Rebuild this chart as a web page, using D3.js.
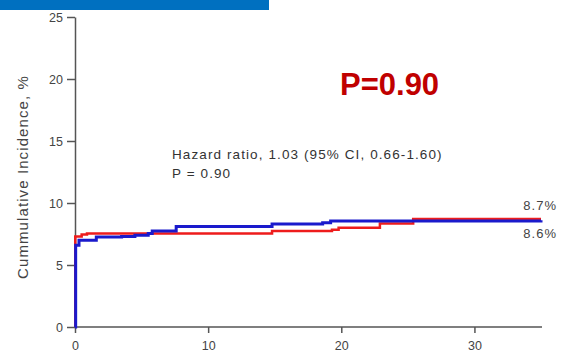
<!DOCTYPE html>
<html lang="en">
<head>
    <meta charset="UTF-8">
    <title>Cumulative Incidence</title>
    <script src="https://d3js.org/d3.v7.min.js"></script>
    <style>
        body { margin: 0; background: #fff; }
        svg { display: block; font-family: "Liberation Sans", Arial, sans-serif; }
        .tick text { fill: #444; font-size: 12.5px; }
        .tick line, .domain { stroke: #555; stroke-width: 1.5px; }
    </style>
</head>
<body>
    <svg id="chart" width="567" height="357"></svg>
    <script>
        // Data (months, %)
        const redT = [0, 0.02, 0.5, 0.9, 14.8, 19.3, 19.8, 22.9, 25.4, 35];
        const redV = [0, 7.3, 7.45, 7.55, 7.75, 7.85, 8.0, 8.35, 8.7, 8.7];
        const blueT = [0, 0.05, 0.3, 1.6, 3.5, 4.5, 5.5, 5.8, 7.6, 14.8, 18.6, 19.2, 35];
        const blueV = [0, 6.6, 7.0, 7.25, 7.3, 7.4, 7.55, 7.75, 8.1, 8.3, 8.4, 8.55, 8.6];
        const xTicks = [0, 10, 20, 30];
        const yTicks = [0, 5, 10, 15, 20, 25];
        const endLabels = ["8.7%", "8.6%"];

        const svg = d3.select("#chart");

        // blue header strip
        svg.append("rect").attr("x", 0).attr("y", 0).attr("width", 269).attr("height", 10).attr("fill", "#0070c0");

        const x = d3.scaleLinear().domain([0, 35]).range([75, 541]);
        const y = d3.scaleLinear().domain([0, 25]).range([327, 17]);

        svg.append("g")
            .attr("transform", "translate(0,327)")
            .call(d3.axisBottom(x).tickValues(xTicks).tickSize(6).tickSizeOuter(0).tickPadding(8))
            .call(g => g.select(".domain").attr("d", `M${x(0)},0H542`));

        svg.append("g")
            .attr("transform", "translate(75,0)")
            .call(d3.axisLeft(y).tickValues(yTicks).tickSize(8).tickSizeOuter(0).tickPadding(4));

        const line = d3.line().curve(d3.curveStepAfter).x(d => x(d[0])).y(d => y(d[1]));

        svg.append("path")
            .datum(redT.map((t, i) => [t, redV[i]]))
            .attr("fill", "none").attr("stroke", "#ee1c1c").attr("stroke-width", 2.5)
            .attr("d", line);

        svg.append("path")
            .datum(blueT.map((t, i) => [t, blueV[i]]))
            .attr("fill", "none").attr("stroke", "#1a1acc").attr("stroke-width", 3)
            .attr("d", line);

        // y axis title
        svg.append("text")
            .attr("transform", "translate(28,177) rotate(-90)")
            .attr("text-anchor", "middle")
            .attr("fill", "#444").attr("font-size", 15).attr("letter-spacing", 1.1)
            .text("Cummulative Incidence, %");

        // annotation
        const note = svg.append("text").attr("fill", "#333").attr("font-size", 13.5).attr("letter-spacing", 1.1);
        note.append("tspan").attr("x", 172).attr("y", 159).text("Hazard ratio, 1.03 (95% CI, 0.66-1.60)");
        note.append("tspan").attr("x", 172).attr("y", 178).text("P = 0.90");

        svg.append("text")
            .attr("x", 340).attr("y", 95)
            .attr("fill", "#c00000").attr("font-size", 31).attr("font-weight", "bold")
            .text("P=0.90");

        // end-of-curve labels
        svg.selectAll(".endlab")
            .data(endLabels)
            .enter()
            .append("text")
            .attr("class", "endlab")
            .attr("x", 557)
            .attr("y", (d, i) => i === 0 ? 210 : 238)
            .attr("text-anchor", "end")
            .attr("fill", "#444").attr("font-size", 13).attr("letter-spacing", 1)
            .text(d => d);
    </script>
</body>
</html>
